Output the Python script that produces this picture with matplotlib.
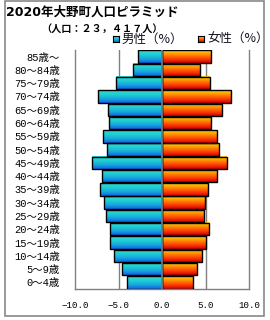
import numpy as np
import matplotlib
matplotlib.use("Agg")
import matplotlib.pyplot as plt
from matplotlib.colors import LinearSegmentedColormap
from matplotlib.patches import Rectangle

plt.rcParams['font.family'] = ['Noto Sans CJK JP', 'DejaVu Sans']
plt.rcParams['axes.unicode_minus'] = True

title = "2020年大野町人口ピラミッド"
subtitle = "（人口：２３，４１７人）"
ages = ["0～4歳", "5～9歳", "10～14歳", "15～19歳", "20～24歳", "25～29歳",
        "30～34歳", "35～39歳", "40～44歳", "45～49歳", "50～54歳", "55～59歳",
        "60～64歳", "65～69歳", "70～74歳", "75～79歳", "80～84歳", "85歳～"]
male = [4.08, 4.65, 5.46, 5.92, 5.92, 6.38, 6.61, 7.07, 6.84, 8.00, 6.27, 6.73,
        6.04, 6.15, 7.30, 5.23, 3.39, 2.81]
female = [3.53, 3.99, 4.56, 5.02, 5.37, 4.79, 4.91, 5.25, 6.29, 7.44, 6.52, 6.33,
          5.60, 6.91, 7.95, 5.49, 4.33, 5.60]
xticks = [-10, -5, 0, 5, 10]
xticklabels = ["−10.0", "−5.0", "0.0", "5.0", "10.0"]
legend_labels = ["男性（%）", "女性（%）"]

W, H = 270, 320
fig = plt.figure(figsize=(W / 100, H / 100), dpi=100)

def fx(px):
    return px / W

def fy(py):
    return 1 - py / H

mono = ['Liberation Mono', 'Noto Sans CJK JP']

male_cmap = LinearSegmentedColormap.from_list("m", ["#1060E0", "#18A8E0", "#20D0D0", "#30D8D8"])
female_cmap = LinearSegmentedColormap.from_list("f", ["#D00000", "#FF4000", "#FF9000", "#FFD800"])
grad = np.linspace(0, 1, 64).reshape(-1, 1)

ax = fig.add_axes([fx(75), fy(289), fx(249) - fx(75), fy(50) - fy(289)])
y = np.arange(len(ages))
mbars = ax.barh(y, [-v for v in male], height=0.94, facecolor='none', edgecolor='black', linewidth=1.0, zorder=3)
fbars = ax.barh(y, female, height=0.94, facecolor='none', edgecolor='black', linewidth=1.0, zorder=3)

for bars, cmap in ((mbars, male_cmap), (fbars, female_cmap)):
    for b in bars:
        x0, y0 = b.get_x(), b.get_y()
        w, h = b.get_width(), b.get_height()
        ax.imshow(grad, cmap=cmap, origin='lower', aspect='auto',
                  extent=(min(x0, x0 + w), max(x0, x0 + w), y0, y0 + h), zorder=2)

ax.set_xlim(-10, 10)
ax.set_ylim(-0.5, len(ages) - 0.5)
for xv in (-5, 5):
    ax.axvline(xv, color='#808080', lw=1.0, zorder=1)
ax.axvline(0, color='#808080', lw=1.2, zorder=4)

ax.set_xticks(xticks)
ax.set_xticklabels(xticklabels, fontsize=6.6, family=mono)
ax.set_yticks(y)
ax.set_yticklabels(ages, fontsize=7.5, family=mono)
ax.tick_params(axis='both', length=0, colors='black')
ax.tick_params(axis='y', pad=11)
ax.tick_params(axis='x', pad=9)
for s in ('left', 'right', 'bottom'):
    ax.spines[s].set_color('#808080')
    ax.spines[s].set_linewidth(1.0)
ax.spines['top'].set_visible(False)

fig.text(fx(6), fy(12), title, fontsize=9, fontweight='bold', va='center', ha='left',
         family=['DejaVu Sans', 'Noto Sans CJK JP'])
fig.text(fx(41), fy(28.5), subtitle, fontsize=7.3, fontweight='bold', va='center', ha='left')

# legend
for (px, cmap, lab) in ((113, male_cmap, legend_labels[0]), (198, female_cmap, legend_labels[1])):
    lax = fig.add_axes([fx(px), fy(42), fx(6), fy(36) - fy(42)])
    lax.imshow(grad, cmap=cmap, origin='lower', aspect='auto', extent=(0, 1, 0, 1))
    lax.set_xticks([]); lax.set_yticks([])
    for s in lax.spines.values():
        s.set_color('black'); s.set_linewidth(0.8)
    fig.text(fx(px + 9), fy(39), lab, fontsize=9, va='center', ha='left', color='#101020')

fig.add_artist(Rectangle((fx(5), fy(316)), fx(264) - fx(5), fy(1) - fy(316),
                         transform=fig.transFigure, fill=False, edgecolor='#888888', lw=1.2))

fig.savefig("out.png", dpi=100)
